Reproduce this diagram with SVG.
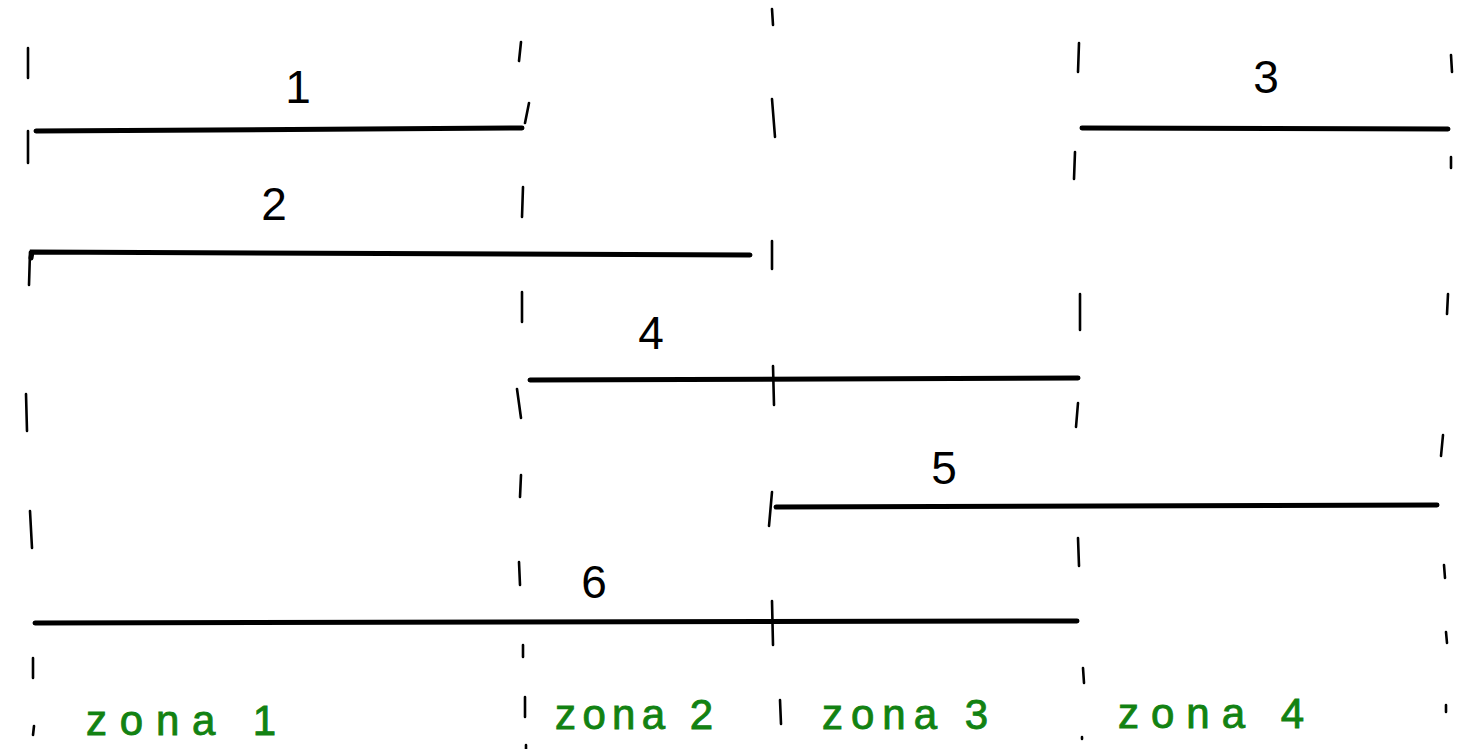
<svg xmlns="http://www.w3.org/2000/svg" width="1460" height="749" viewBox="0 0 1460 749">
<style>
.bg{fill:#ffffff}
.dash{fill:none;stroke:#000;stroke-width:2.6;stroke-linecap:round}
.seg{fill:none;stroke:#000;stroke-width:5;stroke-linecap:round}
.num{font-family:"Liberation Sans",Arial,sans-serif;font-size:46px;fill:#000;text-anchor:middle}
.zone{font-family:"Liberation Sans",Arial,sans-serif;font-size:42px;fill:#128212;stroke:#128212;stroke-width:0.9}
</style>
<rect class="bg" x="0" y="0" width="1460" height="749"/>
<g id="dividers">
  <path class="dash" d="M28 48 L28 78 M28 131 L28 163 M30 252 L29 285 M26 394 L27 431 M30 511 L32 548 M33 658 L33 678 M33 735 L34 726"/>
  <path class="dash" d="M521 42 L519 61 M529 103 L525 123 M523 187 L522 217 M522 292 L522 322 M517 389 L521 418 M521 475 L520 497 M519 562 L520 585 M523 645 L523 657 M525 697 L525 717 M526 745 L526 749"/>
  <path class="dash" d="M772 9 L773 25 M772 99 L775 137 M772 241 L772 269 M773 366 L774 405 M772 492 L769 526 M772 601 L773 645 M780 700 L781 724"/>
  <path class="dash" d="M1079 43 L1078 72 M1075 152 L1074 179 M1080 294 L1080 330 M1078 403 L1076 427 M1078 538 L1079 566 M1083 668 L1084 683 M1082 737 L1082 739"/>
  <path class="dash" d="M1451 55 L1452 72 M1451 157 L1451 168 M1448 294 L1447 314 M1443 435 L1441 456 M1444 565 L1445 578 M1446 632 L1447 643 M1446 705 L1446 712"/>
</g>
<g id="connectors">
  <path class="seg" d="M36 131 L522 128"/>
  <path class="seg" d="M31 258 L32 252 L750 255"/>
  <path class="seg" d="M1082 128 L1448 129"/>
  <path class="seg" d="M530 380 L1078 378"/>
  <path class="seg" d="M776 507 L1437 505"/>
  <path class="seg" d="M35 623 L1077 621"/>
</g>
<g id="node-1"><text class="num" x="298" y="103">1</text></g>
<g id="node-2"><text class="num" x="274" y="220">2</text></g>
<g id="node-3"><text class="num" x="1266" y="93">3</text></g>
<g id="node-4"><text class="num" x="651" y="349">4</text></g>
<g id="node-5"><text class="num" x="944" y="484">5</text></g>
<g id="node-6"><text class="num" x="594" y="598">6</text></g>
<g id="zone-1"><text class="zone" x="86" y="735" textLength="190" lengthAdjust="spacing">zona 1</text></g>
<g id="zone-2"><text class="zone" x="555" y="729" textLength="158" lengthAdjust="spacing">zona 2</text></g>
<g id="zone-3"><text class="zone" x="822" y="729" textLength="166" lengthAdjust="spacing">zona 3</text></g>
<g id="zone-4"><text class="zone" x="1118" y="728" textLength="186" lengthAdjust="spacing">zona 4</text></g>
</svg>
